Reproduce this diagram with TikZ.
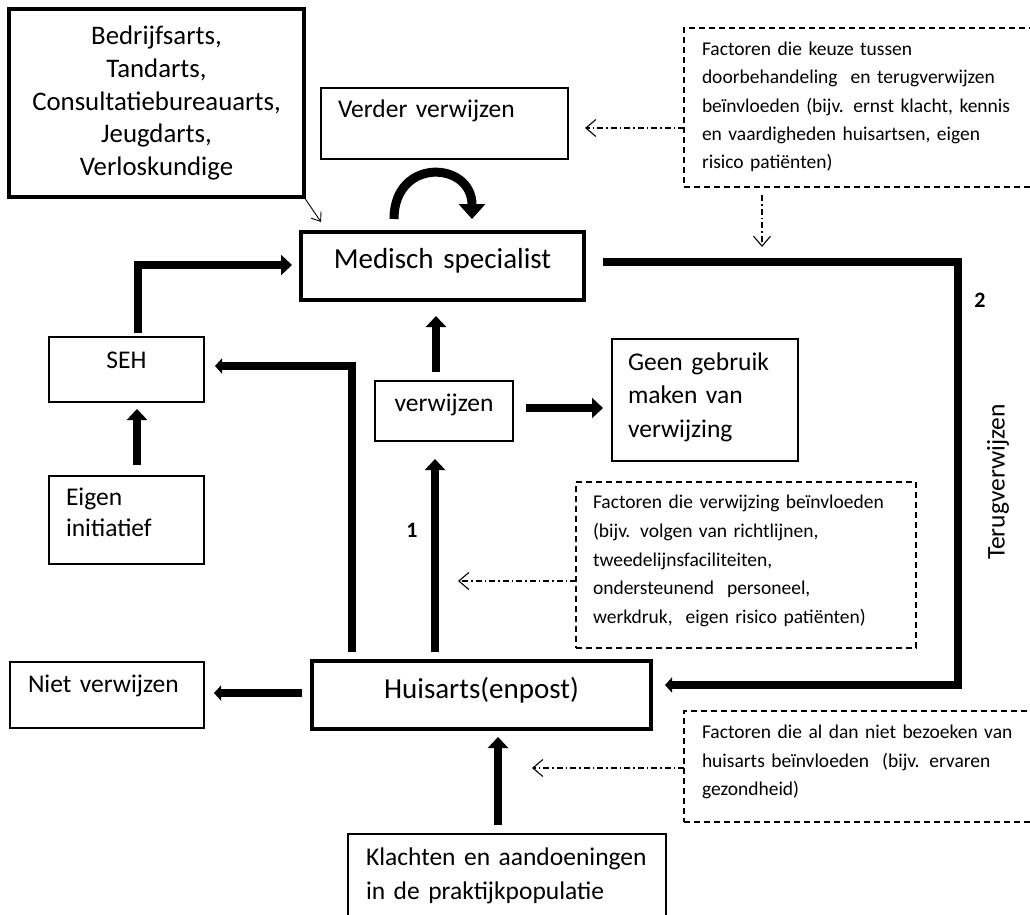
\documentclass[tikz,border=0pt]{standalone}
\usepackage{fontspec}
\setmainfont{Carlito}
\usetikzlibrary{arrows.meta}

\begin{document}
\begin{tikzpicture}[x=1pt,y=-1pt,
                    inner sep=0pt,
                    outer sep=0pt,
                    body/.style={font=\fontsize{25.5}{33}\selectfont},
                    big/.style={font=\fontsize{29}{33}\selectfont},
                    thick box/.style={draw,line width=4.5pt,anchor=north west},
                    thin box/.style={draw,line width=1.3pt,anchor=north west},
                    factor box/.style={draw,line width=1.2pt,dash pattern=on 6pt off 4pt,anchor=north west,
                                       inner xsep=18pt,align=left,font=\fontsize{19.5}{28.5}\selectfont},
                    big arrow/.style={line width=8.5pt,-{Triangle[width=20pt,length=11pt]}},
                    small head/.style={line width=8.5pt,-{Triangle[width=15pt,length=7pt]}},
                    hint arrow/.style={line width=1.1pt,dash pattern=on 6pt off 3pt on 1.5pt off 3pt,
                                       -{Straight Barb[length=10pt,width=17pt]}},
                    nummer/.style={font=\bfseries\fontsize{22}{22}\selectfont}]

  \useasboundingbox (0,0) rectangle (1030,914);

  % boxes
  \node[thick box,font=\fontsize{26.8}{32.8}\selectfont,text width=295pt,align=center,
        text height=35.5pt,text depth=152.5pt] (artsen) at (9,9)
        {Bedrijfsarts,\\Tandarts,\\Consultatiebureauarts,\\Jeugdarts,\\Verloskundige};
  \node[thin box,body,inner xsep=17pt,text width=213pt,align=left,
        text height=29pt,text depth=42pt] (verder) at (321,88) {Verder verwijzen};
  \node[thick box,big,text width=283pt,align=center,
        text height=36pt,text depth=32pt] (ms) at (301,232) {Medisch specialist};
  \node[thin box,body,text width=155pt,align=center,
        text height=31pt,text depth=34pt] (seh) at (49,337) {SEH};
  \node[thin box,body,inner xsep=17pt,text width=121pt,align=left,font=\fontsize{25.5}{31}\selectfont,
        text height=29pt,text depth=59pt] (eigen) at (49,476) {Eigen\\initiatief};
  \node[thin box,body,text width=138pt,align=center,
        text height=30pt,text depth=30pt] (verw) at (375,381) {verwijzen};
  \node[thin box,inner xsep=16pt,text width=154pt,align=left,font=\fontsize{25.5}{33.5}\selectfont,
        text height=31pt,text depth=91pt] (geen) at (612,339) {Geen gebruik\\maken van\\verwijzing};
  \node[thick box,big,text width=339pt,align=center,
        text height=37pt,text depth=31pt] (ha) at (312,661) {Huisarts(enpost)};
  \node[thin box,body,inner xsep=18pt,text width=158pt,align=left,
        text height=30pt,text depth=36pt] (niet) at (10,662) {Niet verwijzen};
  \node[thin box,inner xsep=18pt,text width=282pt,align=left,font=\fontsize{25.5}{34}\selectfont,
        text height=31pt,text depth=69pt] (klacht) at (348,834) {Klachten en aandoeningen\\in de praktijkpopulatie};

  % factoren
  \node[factor box,text width=340pt,font=\fontsize{19.5}{28.25}\selectfont,
        text height=27.5pt,text depth=131.5pt] (fkeuze) at (684,28)
        {Factoren die keuze tussen\\doorbehandeling\ \ en terugverwijzen\\beïnvloeden (bijv. ernst klacht, kennis\\en vaardigheden huisartsen, eigen\\risico patiënten)};
  \node[factor box,inner xsep=17pt,text width=306pt,font=\fontsize{19.5}{28.75}\selectfont,
        text height=26.5pt,text depth=139.5pt] (fvw) at (576,482)
        {Factoren die verwijzing beïnvloeden\\(bijv. volgen van richtlijnen,\\tweedelijnsfaciliteiten,\\ondersteunend\ \ personeel,\\werkdruk,\ \ eigen risico patiënten)};
  \node[factor box,text width=340pt,
        text height=27.5pt,text depth=83.5pt] (fbezoek) at (684,711)
        {Factoren die al dan niet bezoeken van\\huisarts beïnvloeden\ \ (bijv. ervaren\\gezondheid)};

  \node[nummer] (een) at (412,530) {1};
  \node[nummer] (twee) at (980,300) {2};
  \node[body,rotate=90] (terug) at (998,482) {Terugverwijzen};

  % pijlen
  \draw[big arrow] ([xshift=10.5pt,yshift=11pt]eigen.north) -- ([xshift=10.5pt,yshift=-7pt]seh.south);
  \draw[big arrow] ([xshift=11.5pt,yshift=4pt]seh.north) |- ([xshift=-9pt,yshift=1pt]ms.west);
  \draw[small head] ([xshift=40pt,yshift=9pt]ha.north west) |- ([xshift=11pt,yshift=3.5pt]seh.east);
  \draw[big arrow] ([xshift=123pt,yshift=9pt]ha.north west) -- ([xshift=-9pt,yshift=-18pt]verw.south);
  \draw[big arrow] ([xshift=-8pt,yshift=9pt]verw.north) -- ([xshift=-6.5pt,yshift=-16pt]ms.south);
  \draw[big arrow] ([xshift=13pt,yshift=3pt]verw.east) -- ([xshift=-9pt,yshift=-8pt]geen.west);
  \draw[small head] ([xshift=-10pt,yshift=2pt]ha.west) -- ([xshift=10pt,yshift=2pt]niet.east);
  \draw[big arrow] ([xshift=150pt,yshift=9pt]klacht.north west) -- ([xshift=186pt,yshift=-8pt]ha.south west);

  \coordinate (bocht) at (958,685);
  \draw[small head] ([xshift=19pt,yshift=4pt]ms.east) -| (bocht) -- ([xshift=14pt,yshift=10pt]ha.east);

  \coordinate (lusA) at ([xshift=-48.5pt,yshift=13pt]ms.north);
  \coordinate (lusB) at ([xshift=29.5pt,yshift=13pt]ms.north);
  \draw[line width=9pt,-{Triangle[width=26pt,length=15pt]}] (lusA) .. controls +(0,-62) and +(0,-58) .. (lusB);

  \draw[line width=0.9pt,-{Straight Barb[length=8pt,width=12pt]}] (artsen.south east) -- ([xshift=20pt,yshift=10pt]ms.north west);

  \coordinate (keuzepunt) at (762,247);
  \coordinate (verwpunt) at (458,581);
  \coordinate (bezoekpunt) at (532,768);
  \draw[hint arrow] ([yshift=-20.5pt]fkeuze.west) -- ([xshift=17pt,yshift=-4.5pt]verder.east);
  \draw[hint arrow] ([xshift=78pt,yshift=-8pt]fkeuze.south west) -- (keuzepunt);
  \draw[hint arrow] ([yshift=-16pt]fvw.west) -- (verwpunt);
  \draw[hint arrow] ([yshift=-1.5pt]fbezoek.west) -- (bezoekpunt);
\end{tikzpicture}
\end{document}
